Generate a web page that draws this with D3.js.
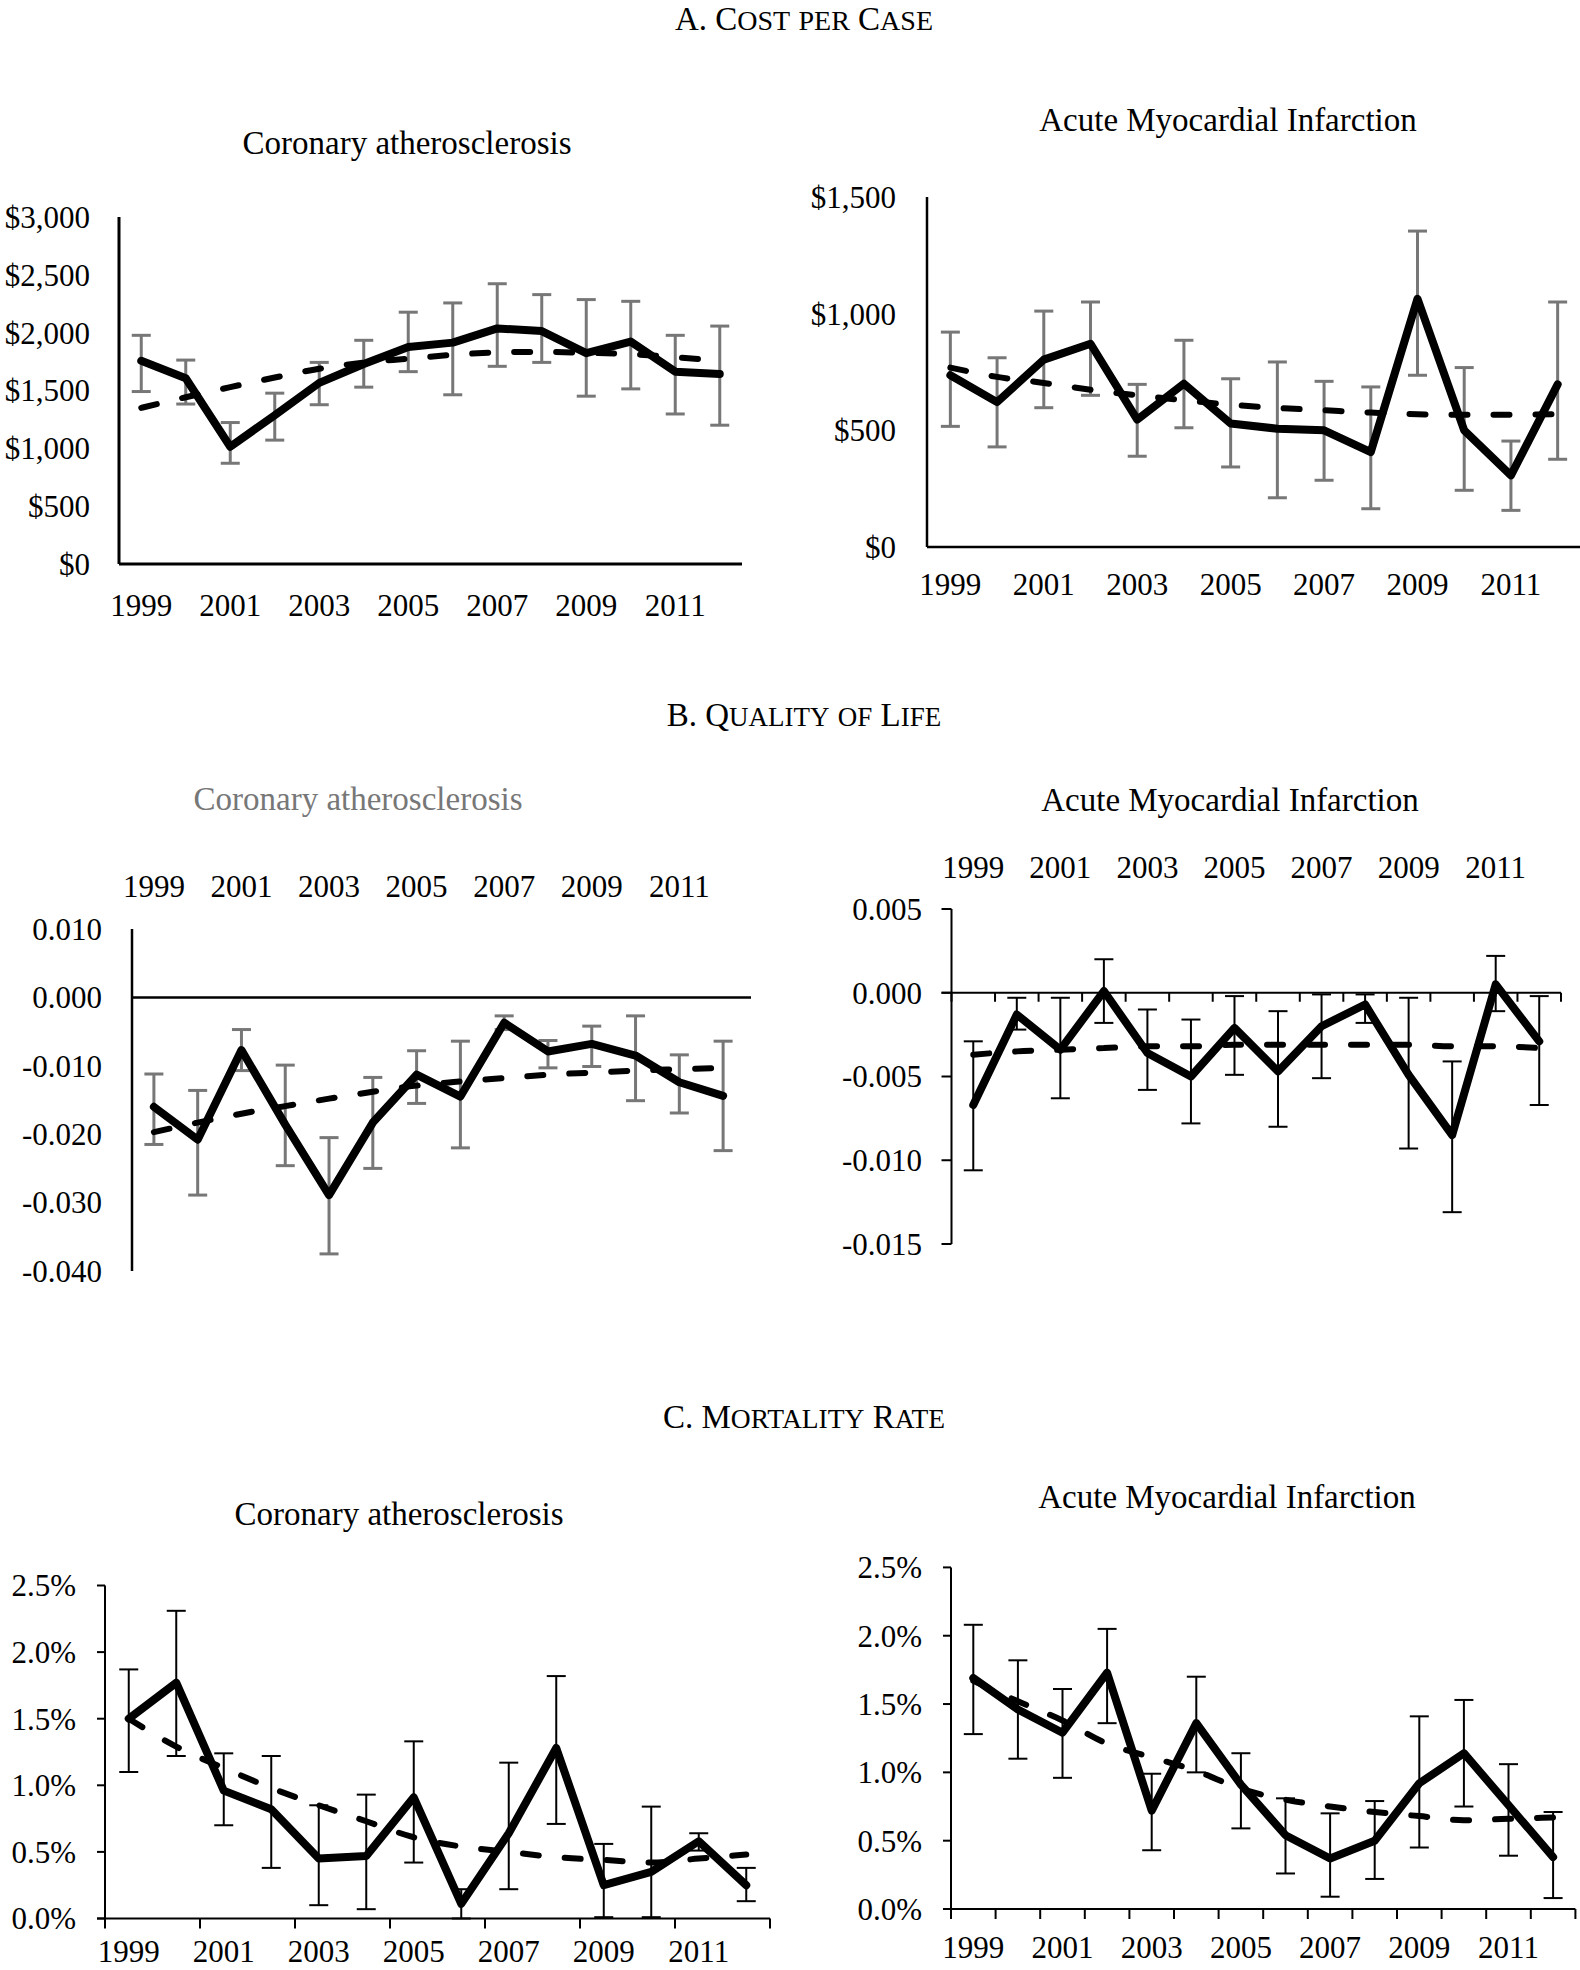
<!DOCTYPE html>
<html><head><meta charset="utf-8">
<script src="https://cdn.jsdelivr.net/npm/d3@7"></script>
<style>
body{margin:0;background:#fff}
svg{display:block}
text{font-family:"Liberation Serif","Times New Roman",serif;fill:#000}
</style>
</head><body>
<svg id="chart" width="1580" height="1970"></svg>
<script>
// ---------------- DATA ----------------
const years = [1999,2000,2001,2002,2003,2004,2005,2006,2007,2008,2009,2010,2011,2012];
const yearLabels = [1999,2001,2003,2005,2007,2009,2011];

const sectionTitles = ["A. Cost per Case","B. Quality of Life","C. Mortality Rate"];
const subtitleCA = "Coronary atherosclerosis";
const subtitleAMI = "Acute Myocardial Infarction";

// A. Cost per case – Coronary atherosclerosis
const costCATicks = [0,500,1000,1500,2000,2500,3000];
const costCA      = [1757,1606,1014,1286,1566,1729,1877,1914,2037,2014,1823,1923,1663,1643];
const costCATrend = [1350,1442,1529,1612,1688,1742,1775,1809,1829,1834,1826,1814,1788,1757];
const costCALow   = [1491,1383,871,1071,1377,1529,1663,1463,1709,1743,1451,1514,1297,1200];
const costCAHigh  = [1977,1763,1223,1477,1743,1934,2177,2257,2423,2329,2286,2271,1977,2057];

// A. Cost per case – AMI
const costAMITicks = [0,500,1000,1500];
const costAMI      = [736,621,803,871,546,700,529,507,500,407,1064,500,307,697];
const costAMITrend = [769,729,703,674,650,629,610,596,586,576,569,567,567,569];
const costAMILow   = [517,429,597,650,389,511,343,211,286,164,736,243,157,376];
const costAMIHigh  = [921,811,1011,1050,697,886,721,793,710,686,1354,769,454,1050];

// B. Quality of life – Coronary atherosclerosis
const qolCATicks = [0.010,0.000,-0.010,-0.020,-0.030,-0.040];
const qolCA      = [-0.0160,-0.0208,-0.0077,-0.0186,-0.0289,-0.0183,-0.0113,-0.0145,-0.0037,-0.0079,-0.0068,-0.0085,-0.0124,-0.0144];
const qolCATrend = [-0.0197,-0.0183,-0.0170,-0.0159,-0.0148,-0.0138,-0.0129,-0.0123,-0.0118,-0.0113,-0.0110,-0.0107,-0.0105,-0.0103];
const qolCALow   = [-0.0215,-0.0289,-0.0107,-0.0246,-0.0375,-0.0250,-0.0155,-0.0220,-0.0047,-0.0103,-0.0101,-0.0151,-0.0169,-0.0224];
const qolCAHigh  = [-0.0112,-0.0136,-0.0047,-0.0099,-0.0205,-0.0117,-0.0078,-0.0064,-0.0027,-0.0063,-0.0042,-0.0027,-0.0084,-0.0064];

// B. Quality of life – AMI
const qolAMITicks = [0.005,0.000,-0.005,-0.010,-0.015];
const qolAMI      = [-0.0067,-0.0013,-0.0034,0.0001,-0.0036,-0.0050,-0.0021,-0.0047,-0.0020,-0.0007,-0.0049,-0.0085,0.0005,-0.0029];
const qolAMITrend = [-0.0037,-0.0035,-0.0034,-0.0033,-0.0032,-0.0032,-0.0031,-0.0031,-0.0031,-0.0031,-0.0031,-0.0032,-0.0032,-0.0033];
const qolAMILow   = [-0.0106,-0.0022,-0.0063,-0.0018,-0.0058,-0.0078,-0.0049,-0.0080,-0.0051,-0.0018,-0.0093,-0.0131,-0.0011,-0.0067];
const qolAMIHigh  = [-0.0029,-0.0003,-0.0003,0.0020,-0.0010,-0.0016,-0.0002,-0.0011,-0.0001,-0.0001,-0.0003,-0.0041,0.0022,-0.0002];

// C. Mortality rate (%) – Coronary atherosclerosis
const mortCATicks = [0,0.5,1.0,1.5,2.0,2.5];
const mortCA      = [1.50,1.77,0.96,0.82,0.45,0.47,0.91,0.11,0.64,1.28,0.25,0.35,0.58,0.25];
const mortCATrend = [1.50,1.29,1.13,0.98,0.85,0.73,0.61,0.54,0.50,0.46,0.44,0.42,0.45,0.48];
const mortCALow   = [1.10,1.22,0.70,0.38,0.10,0.07,0.42,0.00,0.22,0.71,0.01,0.01,0.51,0.13];
const mortCAHigh  = [1.87,2.31,1.24,1.22,0.85,0.93,1.33,0.22,1.17,1.82,0.56,0.84,0.64,0.38];

// C. Mortality rate (%) – AMI
const mortAMITicks = [0,0.5,1.0,1.5,2.0,2.5];
const mortAMI      = [1.69,1.46,1.29,1.73,0.72,1.36,0.91,0.54,0.37,0.50,0.92,1.14,0.76,0.38];
const mortAMITrend = [1.67,1.52,1.38,1.21,1.11,1.01,0.88,0.80,0.75,0.71,0.68,0.65,0.66,0.67];
const mortAMILow   = [1.28,1.10,0.96,1.36,0.43,1.00,0.59,0.26,0.09,0.22,0.45,0.75,0.39,0.08];
const mortAMIHigh  = [2.08,1.82,1.61,2.05,0.99,1.70,1.14,0.81,0.70,0.79,1.41,1.53,1.06,0.71];

// ---------------- FORMATS ----------------
const fmtDollar = d => "$" + d3.format(",")(d);
const fmtDec = d => (Math.abs(d) < 1e-12 ? 0 : d).toFixed(3);
const fmtPct = d => d.toFixed(1) + "%";

// ---------------- LAYOUT ----------------
const svg = d3.select("#chart");
const FONT_TICK = 31, FONT_SUB = 33;
const GRAY = "#777777";

function smallCaps(sel, str, big, small) {
  let runs = [];
  for (const ch of str) {
    const isSmall = ch >= "a" && ch <= "z";
    const last = runs[runs.length - 1];
    if (last && last.small === isSmall) last.t += ch;
    else runs.push({small: isSmall, t: ch});
  }
  sel.selectAll("tspan").data(runs).join("tspan")
    .attr("font-size", r => r.small ? small : big)
    .text(r => r.small ? r.t.toUpperCase() : r.t);
}

const titleY = [30, 726, 1428];
const titleBig = [33, 33, 33];
const titleSmall = [28, 27, 27.5];
sectionTitles.forEach((t, i) => {
  const tx = svg.append("text").attr("x", 804).attr("y", titleY[i])
    .attr("text-anchor", "middle");
  smallCaps(tx, t, titleBig[i], titleSmall[i]);
});

const panels = [
  {vals: costCA, trend: costCATrend, low: costCALow, high: costCAHigh, ticks: costCATicks, fmt: fmtDollar,
   min: 0, max: 3000, base: 0, x0: 119, x1: 742, xAxisEnd: 742, yMin: 564, yMax: 217,
   labelRight: 90, xLabelY: 616, sub: subtitleCA, subX: 407, subY: 154, subColor: "#000",
   errColor: GRAY, errW: 3, axisW: 3, yTick: 0, xTickEvery: 0},
  {vals: costAMI, trend: costAMITrend, low: costAMILow, high: costAMIHigh, ticks: costAMITicks, fmt: fmtDollar,
   min: 0, max: 1500, base: 0, x0: 927, x1: 1581, xAxisEnd: 1580, yMin: 547, yMax: 197,
   labelRight: 896, xLabelY: 595, sub: subtitleAMI, subX: 1228, subY: 131, subColor: "#000",
   errColor: GRAY, errW: 3, axisW: 2.5, yTick: 0, xTickEvery: 0},
  {vals: qolCA, trend: qolCATrend, low: qolCALow, high: qolCAHigh, ticks: qolCATicks, fmt: fmtDec,
   min: -0.040, max: 0.010, base: 0, x0: 132, x1: 745, xAxisEnd: 751, yMin: 1271, yMax: 929,
   labelRight: 102, xLabelY: 897, sub: subtitleCA, subX: 358, subY: 810, subColor: GRAY,
   errColor: GRAY, errW: 3, axisW: 2.5, yTick: 0, xTickEvery: 0},
  {vals: qolAMI, trend: qolAMITrend, low: qolAMILow, high: qolAMIHigh, ticks: qolAMITicks, fmt: fmtDec,
   min: -0.015, max: 0.005, base: 0, x0: 951.5, x1: 1561, xAxisEnd: 1561, yMin: 1244, yMax: 909,
   labelRight: 922, xLabelY: 878, sub: subtitleAMI, subX: 1230, subY: 811, subColor: "#000",
   errColor: "#000", errW: 2, axisW: 2, yTick: 10, xTickEvery: 1, xTickLen: 9},
  {vals: mortCA, trend: mortCATrend, low: mortCALow, high: mortCAHigh, ticks: mortCATicks, fmt: fmtPct,
   min: 0, max: 2.5, base: 0, x0: 105, x1: 770, xAxisEnd: 770, yMin: 1918.5, yMax: 1585.5,
   labelRight: 76, xLabelY: 1962, sub: subtitleCA, subX: 399, subY: 1525, subColor: "#000",
   errColor: "#000", errW: 2, axisW: 2, yTick: 8, xTickEvery: 2, xTickLen: 10},
  {vals: mortAMI, trend: mortAMITrend, low: mortAMILow, high: mortAMIHigh, ticks: mortAMITicks, fmt: fmtPct,
   min: 0, max: 2.5, base: 0, x0: 951, x1: 1575.4, xAxisEnd: 1575.4, yMin: 1909, yMax: 1567.4,
   labelRight: 922, xLabelY: 1958, sub: subtitleAMI, subX: 1227, subY: 1508, subColor: "#000",
   errColor: "#000", errW: 2, axisW: 2, yTick: 8, xTickEvery: 1, xTickLen: 10}
];

panels.forEach(p => {
  const g = svg.append("g");
  const x = d3.scaleBand().domain(years).range([p.x0, p.x1]).padding(0);
  const cx = d => x(d) + x.bandwidth() / 2;
  const y = d3.scaleLinear().domain([p.min, p.max]).range([p.yMin, p.yMax]);

  g.append("text").attr("x", p.subX).attr("y", p.subY).attr("text-anchor", "middle")
    .attr("font-size", FONT_SUB).style("fill", p.subColor).text(p.sub);

  g.append("line").attr("x1", p.x0).attr("x2", p.x0)
    .attr("y1", y(p.max)).attr("y2", y(p.min))
    .attr("stroke", "#000").attr("stroke-width", p.axisW);
  g.append("line").attr("x1", p.x0 - (p.yTick ? p.yTick : 0)).attr("x2", p.xAxisEnd)
    .attr("y1", y(p.base)).attr("y2", y(p.base))
    .attr("stroke", "#000").attr("stroke-width", p.axisW);

  if (p.yTick) {
    g.selectAll(".ytick").data(p.ticks).join("line")
      .attr("x1", p.x0 - p.yTick).attr("x2", p.x0)
      .attr("y1", d => y(d)).attr("y2", d => y(d))
      .attr("stroke", "#000").attr("stroke-width", p.axisW);
  }
  g.selectAll(".ylab").data(p.ticks).join("text")
    .attr("x", p.labelRight).attr("y", d => y(d)).attr("dy", "0.35em")
    .attr("text-anchor", "end").attr("font-size", FONT_TICK).text(p.fmt);

  if (p.xTickEvery) {
    const bounds = years.filter((d, i) => i % p.xTickEvery === 0).map(d => x(d)).concat([p.x1]);
    g.selectAll(".xtick").data(bounds).join("line")
      .attr("x1", d => d).attr("x2", d => d)
      .attr("y1", y(p.base)).attr("y2", y(p.base) + p.xTickLen)
      .attr("stroke", "#000").attr("stroke-width", p.axisW);
  }
  g.selectAll(".xlab").data(yearLabels).join("text")
    .attr("x", cx).attr("y", p.xLabelY).attr("text-anchor", "middle")
    .attr("font-size", FONT_TICK).text(d => d);

  const capW = 9.5;
  const eb = g.append("g").attr("stroke", p.errColor).attr("stroke-width", p.errW);
  years.forEach((yr, i) => {
    const xc = cx(yr);
    eb.append("line").attr("x1", xc).attr("x2", xc).attr("y1", y(p.low[i])).attr("y2", y(p.high[i]));
    eb.append("line").attr("x1", xc - capW).attr("x2", xc + capW).attr("y1", y(p.low[i])).attr("y2", y(p.low[i]));
    eb.append("line").attr("x1", xc - capW).attr("x2", xc + capW).attr("y1", y(p.high[i])).attr("y2", y(p.high[i]));
  });

  const line = d3.line().x((d, i) => cx(years[i])).y(d => y(d));
  g.append("path").datum(p.vals).attr("d", line)
    .attr("fill", "none").attr("stroke", "#000").attr("stroke-width", 8)
    .attr("stroke-linejoin", "round").attr("stroke-linecap", "round");

  const tline = d3.line().x((d, i) => cx(years[i])).y(d => y(d)).curve(d3.curveMonotoneX);
  g.append("path").datum(p.trend).attr("d", tline)
    .attr("fill", "none").attr("stroke", "#000").attr("stroke-width", 6)
    .attr("stroke-dasharray", "16,26").attr("stroke-linecap", "round");
});
</script>
</body></html>
